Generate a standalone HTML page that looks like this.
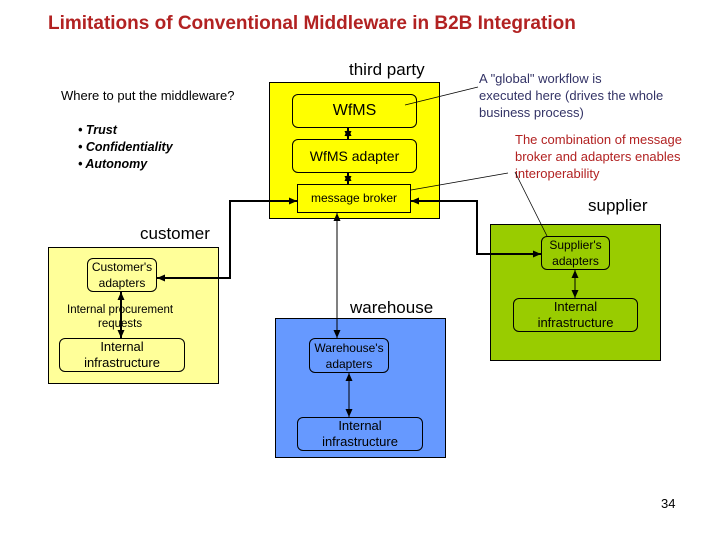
<!DOCTYPE html>
<html><head><style>
body{margin:0;width:720px;height:540px;background:#fff;position:relative;overflow:hidden;font-family:"Liberation Sans",sans-serif}
.t{position:absolute;white-space:nowrap}
.b{position:absolute;box-sizing:border-box;border:1px solid #000}
.r{position:absolute;box-sizing:border-box;border:1px solid #000;border-radius:6px;text-align:center;font-size:13px;line-height:16px;display:flex;align-items:center;justify-content:center}
</style></head><body>
<div class="t" style="left:48px;top:13px;font-size:19px;font-weight:bold;color:#b22222">Limitations of Conventional Middleware in B2B Integration</div>
<div class="t" style="left:61px;top:88px;font-size:13px">Where to put the middleware?</div>
<div class="t" style="left:78px;top:122px;font-size:12.5px;font-weight:bold;font-style:italic;line-height:17px">• Trust<br>• Confidentiality<br>• Autonomy</div>

<div class="b" style="left:269px;top:82px;width:171px;height:137px;background:#ffff00"></div>
<div class="t" style="left:349px;top:60px;font-size:17px">third party</div>
<div class="r" style="left:292px;top:94px;width:125px;height:34px;font-size:16px">WfMS</div>
<div class="r" style="left:292px;top:139px;width:125px;height:34px;font-size:14px">WfMS adapter</div>
<div class="b" style="left:297px;top:184px;width:114px;height:29px;font-size:12px;text-align:center;line-height:27px">message broker</div>

<div class="t" style="left:479px;top:70px;font-size:13px;line-height:17px;color:#333366">A "global" workflow is<br>executed here (drives the whole<br>business process)</div>
<div class="t" style="left:515px;top:131px;font-size:13px;line-height:17px;color:#b22222">The combination of message<br>broker and adapters enables<br>interoperability</div>

<div class="b" style="left:490px;top:224px;width:171px;height:137px;background:#99cc00"></div>
<div class="t" style="left:588px;top:196px;font-size:17px">supplier</div>
<div class="r" style="left:541px;top:236px;width:69px;height:34px;font-size:12px">Supplier's<br>adapters</div>
<div class="r" style="left:513px;top:298px;width:125px;height:34px">Internal<br>infrastructure</div>

<div class="b" style="left:48px;top:247px;width:171px;height:137px;background:#ffff99"></div>
<div class="t" style="left:140px;top:224px;font-size:17px">customer</div>
<div class="r" style="left:87px;top:258px;width:70px;height:34px;font-size:12px">Customer's<br>adapters</div>
<div class="t" style="left:67px;top:303px;font-size:11.5px;line-height:14px;text-align:center">Internal procurement<br>requests</div>
<div class="r" style="left:59px;top:338px;width:126px;height:34px">Internal<br>infrastructure</div>

<div class="b" style="left:275px;top:318px;width:171px;height:140px;background:#6699ff"></div>
<div class="t" style="left:350px;top:298px;font-size:17px">warehouse</div>
<div class="r" style="left:309px;top:338px;width:80px;height:35px;font-size:12px">Warehouse's<br>adapters</div>
<div class="r" style="left:297px;top:417px;width:126px;height:34px">Internal<br>infrastructure</div>

<div class="t" style="left:661px;top:496px;font-size:13px">34</div>

<svg width="720" height="540" style="position:absolute;left:0;top:0" fill="none" stroke="#000">
<defs><marker id="a" markerUnits="userSpaceOnUse" markerWidth="9" markerHeight="8" refX="8" refY="4" orient="auto-start-reverse"><path d="M0,0.5 L8,4 L0,7.5z" fill="#000" stroke="none"/></marker></defs>
<path d="M297,201 L230,201 L230,278 L157,278" stroke-width="2" marker-start="url(#a)" marker-end="url(#a)"/>
<path d="M411,201 L477,201 L477,254 L541,254" stroke-width="2" marker-start="url(#a)" marker-end="url(#a)"/>
<path d="M337,213 L337,338" marker-start="url(#a)" marker-end="url(#a)"/>
<path d="M348,128 L348,139" stroke-width="2" marker-start="url(#a)" marker-end="url(#a)"/>
<path d="M348,173 L348,184" stroke-width="2" marker-start="url(#a)" marker-end="url(#a)"/>
<path d="M575,270 L575,298" marker-start="url(#a)" marker-end="url(#a)"/>
<path d="M121,292 L121,338" stroke-width="2" marker-start="url(#a)" marker-end="url(#a)"/>
<path d="M349,373 L349,417" marker-start="url(#a)" marker-end="url(#a)"/>
<path d="M405,105 L478,87" stroke-width="0.8"/>
<path d="M411,190 L508,173" stroke-width="0.8"/>
<path d="M515,172 L547,236" stroke-width="0.8"/>
</svg>
</body></html>
